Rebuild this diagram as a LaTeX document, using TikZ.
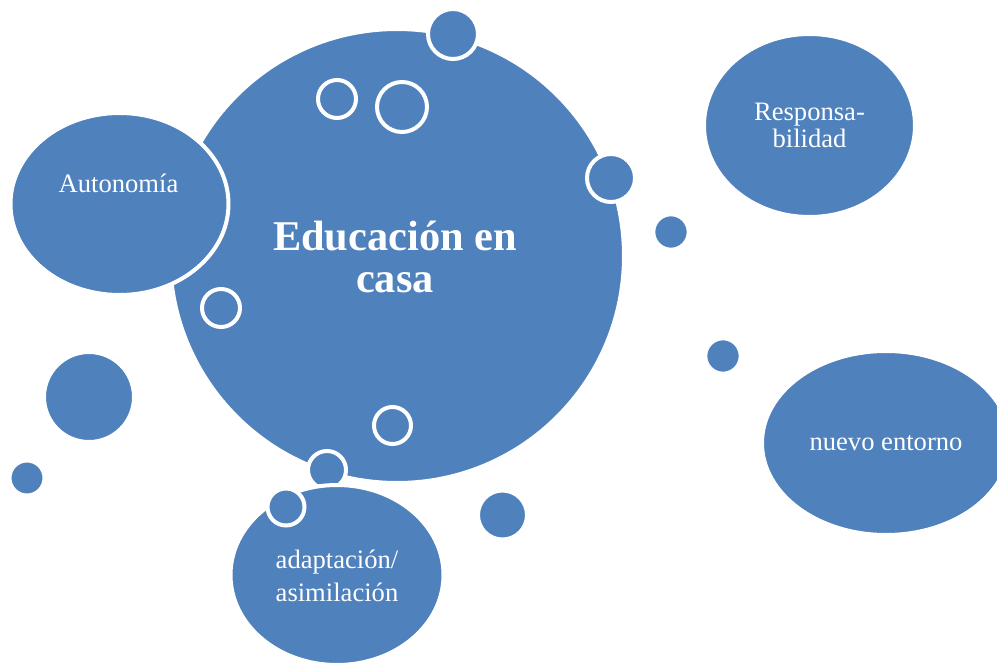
\documentclass[tikz,border=0pt]{standalone}
\usepackage{fontspec}
\setmainfont{Liberation Serif}
\usepackage{tikz}
\usetikzlibrary{shapes.geometric}
\definecolor{bubble}{RGB}{79,129,189}

\begin{document}
\begin{tikzpicture}[x=0.5pt,y=-0.5pt,
    blob/.style={ellipse,fill=bubble,draw=white,line width=2pt,inner sep=0pt},
    dot/.style={circle,fill=bubble,draw=white,line width=2pt,inner sep=0pt,minimum size=#1},
    lbl/.style={text=white,font=\fontsize{13.3}{13.3}\selectfont,align=center,anchor=base}]
      \useasboundingbox (0,0) rectangle (997,664);
      \node[dot=227pt] (edu) at (397,256) {};
      \node[blob,minimum width=109pt,minimum height=91pt] (auto) at (119.5,204) {};
      \node[blob,minimum width=105.5pt,minimum height=91.5pt] (resp) at (809.5,125.5) {};
      \node[blob,minimum width=124pt,minimum height=92pt] (nuevo) at (886,443) {};
      % bubbles on the big circle
      \node[dot=25pt] (c1) at (453,34) {};
      \node[dot=19pt] (c2) at (337,99) {};
      \node[dot=25pt] (c3) at (402,107) {};
      \node[dot=24pt] (c4) at (611,178) {};
      \node[dot=19pt] (c5) at (221,308) {};
      \node[dot=18.5pt] (c6) at (392.5,425.5) {};
      \node[dot=19pt] (c7) at (327,470) {};
      \node[blob,minimum width=106.5pt,minimum height=90pt] (adap) at (337,575) {};
      \node[dot=18.5pt] (c8) at (286,507) {};
      % loose bubbles
      \node[dot=17.7pt] (s1) at (671,232) {};
      \node[dot=17.7pt] (s2) at (723,356) {};
      \node[dot=45pt] (s3) at (89,397) {};
      \node[dot=17.5pt] (s4) at (27,478) {};
      \node[dot=24.5pt] (s5) at (502.5,515) {};
      % texts (base = last line)
      \node[lbl,font=\bfseries\fontsize{21.2}{21}\selectfont] (t0) at (395,292) {Educación en\\casa};
      \node[lbl] (t1) at (118.5,192) {Autonomía};
      \node[lbl] (t2) at (809.5,147) {Responsa-\\bilidad};
      \node[lbl] (t3) at (886,450) {nuevo entorno};
      \node[lbl,font=\fontsize{13.3}{16.5}\selectfont] (t4) at (337,601) {adaptación/\\asimilación};
    \end{tikzpicture}
\end{document}
